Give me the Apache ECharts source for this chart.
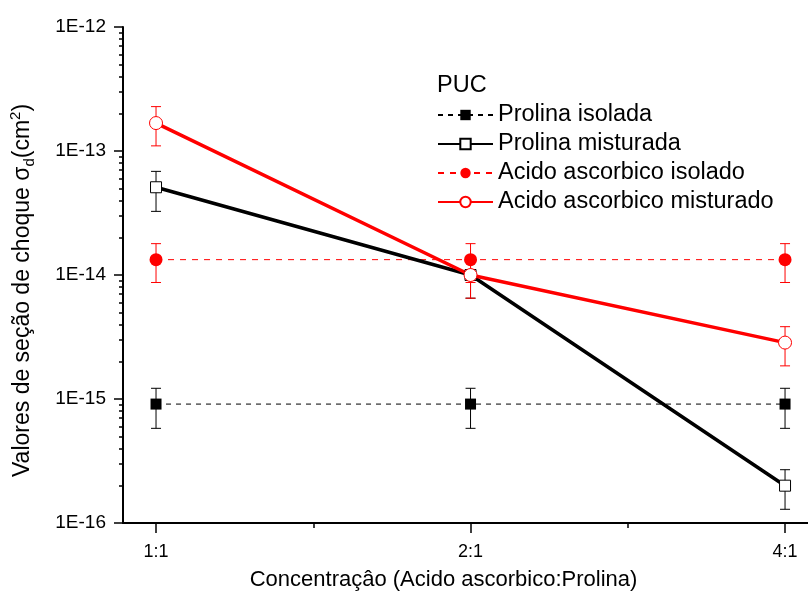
<!DOCTYPE html>
<html>
<head>
<meta charset="utf-8">
<script src="https://cdn.jsdelivr.net/npm/echarts@6/dist/echarts.min.js"></script>
<style>html,body{margin:0;padding:0;background:#fff}#c{width:808px;height:596px}</style>
</head>
<body>
<div id="c"></div>
<script>
// ---- data ----
const categories = ['1:1', '2:1', '4:1'];
const prolinaIsolada = [9.1e-16, 9.1e-16, 9.1e-16];
const prolinaIsoladaLow = [5.8e-16, 5.8e-16, 5.8e-16];
const prolinaIsoladaHigh = [1.22e-15, 1.22e-15, 1.22e-15];
const prolinaMisturada = [5.1e-14, 1.0e-14, 2.0e-16];
const prolinaMisturadaLow = [3.26e-14, 6.5e-15, 1.29e-16];
const prolinaMisturadaHigh = [6.85e-14, 1.36e-14, 2.69e-16];
const acidoIsolado = [1.33e-14, 1.33e-14, 1.33e-14];
const acidoIsoladoLow = [8.7e-15, 8.7e-15, 8.7e-15];
const acidoIsoladoHigh = [1.79e-14, 1.79e-14, 1.79e-14];
const acidoMisturado = [1.68e-13, 1.0e-14, 2.85e-15];
const acidoMisturadoLow = [1.10e-13, 6.5e-15, 1.85e-15];
const acidoMisturadoHigh = [2.28e-13, 1.36e-14, 3.83e-15];
const yTickValues = [1e-16, 1e-15, 1e-14, 1e-13, 1e-12];
const seriesNames = ['Prolina isolada', 'Prolina misturada', 'Acido ascorbico isolado', 'Acido ascorbico misturado'];

// ---- build ----
const FONT = 'Liberation Sans';
const pts = arr => arr.map((v, i) => [i, v]);
const errs = (lo, hi) => lo.map((v, i) => [i, v, hi[i]]);
const minorY = [];
for (let e = -16; e < -12; e++) for (let k = 2; k <= 9; k++) minorY.push(k * Math.pow(10, e));

function errSeries(name, lo, hi, color) {
  return {
    type: 'custom', name: name + '_err', xAxisIndex: 0, yAxisIndex: 0, z: 1,
    silent: true, legendHoverLink: false,
    data: errs(lo, hi),
    encode: { x: 0, y: [1, 2] },
    renderItem: function (params, api) {
      const a = api.coord([api.value(0), api.value(1)]);
      const b = api.coord([api.value(0), api.value(2)]);
      const w = 5;
      const st = { stroke: color, lineWidth: 1, fill: null };
      return {
        type: 'group', children: [
          { type: 'line', shape: { x1: a[0], y1: a[1], x2: b[0], y2: b[1] }, style: st },
          { type: 'line', shape: { x1: a[0] - w, y1: a[1], x2: a[0] + w, y2: a[1] }, style: st },
          { type: 'line', shape: { x1: b[0] - w, y1: b[1], x2: b[0] + w, y2: b[1] }, style: st }
        ]
      };
    }
  };
}

const chart = echarts.init(document.getElementById('c'), null, { renderer: 'canvas' });
chart.setOption({
  animation: false,
  backgroundColor: '#fff',
  textStyle: { fontFamily: FONT },
  grid: { left: 123, top: 27, bottom: 72, right: 0, containLabel: false },
  title: {
    text: 'PUC', left: 437, top: 74, padding: 0,
    textStyle: { fontFamily: FONT, fontSize: 23.5, fontWeight: 'normal', color: '#000' }
  },
  legend: {
    data: seriesNames,
    orient: 'vertical', left: 437, top: 103, padding: 0,
    itemWidth: 55, itemHeight: 13, itemGap: 5, textGap: 7,
    textStyle: { fontFamily: FONT, fontSize: 23.5, color: '#000', lineHeight: 24 },
    selectedMode: false
  },
  xAxis: [{
    type: 'value', min: -0.105, max: 2.073,
    axisLine: { show: true, onZero: false, lineStyle: { color: '#000', width: 2 } },
    axisTick: { show: true, customValues: [0, 1, 2], length: 10, lineStyle: { color: '#000', width: 1.5 } },
    axisLabel: {
      customValues: [0, 1, 2], margin: 20, color: '#000', fontSize: 18, fontFamily: FONT,
      formatter: v => categories[Math.round(v)]
    },
    splitLine: { show: false },
    name: 'Concentraçâo (Acido ascorbico:Prolina)', nameLocation: 'middle', nameGap: 46,
    nameTextStyle: { fontFamily: FONT, fontSize: 22, color: '#000', padding: [0, 44, 0, 0] }
  }, {
    type: 'value', min: -0.105, max: 2.073, position: 'bottom',
    axisLine: { show: false, onZero: false },
    axisTick: { show: true, customValues: [0.5, 1.5], length: 5, lineStyle: { color: '#000', width: 1.5 } },
    axisLabel: { show: false }, splitLine: { show: false }
  }],
  yAxis: [{
    type: 'log', logBase: 10, min: 1e-16, max: 1e-12,
    axisLine: { show: true, onZero: false, lineStyle: { color: '#000', width: 2 } },
    axisTick: { show: true, customValues: yTickValues, length: 9, lineStyle: { color: '#000', width: 1.5 } },
    axisLabel: {
      customValues: yTickValues, margin: 17, color: '#000', fontSize: 19, fontFamily: FONT,
      formatter: v => '1E' + Math.round(Math.log10(v))
    },
    splitLine: { show: false },
    name: '{t|Valores de seção de choque σ}{s|d}{t|(cm}{p|2}{t|)}',
    nameLocation: 'middle', nameGap: 86,
    nameTextStyle: {
      padding: [0, 31, 0, 0],
      rich: {
        t: { fontFamily: FONT, fontSize: 23, color: '#000', verticalAlign: 'middle' },
        s: { fontFamily: FONT, fontSize: 15, color: '#000', padding: [14, 0, 0, 0] },
        p: { fontFamily: FONT, fontSize: 15, color: '#000', padding: [0, 0, 14, 0] }
      }
    }
  }, {
    type: 'log', logBase: 10, min: 1e-16, max: 1e-12, position: 'left', offset: 0,
    axisLine: { show: false, onZero: false },
    axisTick: { show: true, customValues: minorY, length: 4, lineStyle: { color: '#000', width: 1.5 } },
    axisLabel: { show: false }, splitLine: { show: false }
  }],
  series: [
    errSeries(seriesNames[0], prolinaIsoladaLow, prolinaIsoladaHigh, '#000'),
    errSeries(seriesNames[1], prolinaMisturadaLow, prolinaMisturadaHigh, '#000'),
    errSeries(seriesNames[2], acidoIsoladoLow, acidoIsoladoHigh, '#ff0000'),
    errSeries(seriesNames[3], acidoMisturadoLow, acidoMisturadoHigh, '#ff0000'),
    {
      type: 'line', name: seriesNames[0], data: pts(prolinaIsolada), z: 3,
      lineStyle: { color: '#000', width: 1, type: [5, 5] },
      symbol: 'rect', symbolSize: 11,
      itemStyle: { color: '#000', borderColor: '#000', borderWidth: 0 }
    },
    {
      type: 'line', name: seriesNames[1], data: pts(prolinaMisturada), z: 4,
      lineStyle: { color: '#000', width: 3.5, type: 'solid' },
      symbol: 'rect', symbolSize: 11, showSymbol: true,
      itemStyle: { color: '#fff', borderColor: '#000', borderWidth: 1 }
    },
    {
      type: 'line', name: seriesNames[2], data: pts(acidoIsolado), z: 3,
      lineStyle: { color: '#ff0000', width: 1, type: [6, 6] },
      symbol: 'circle', symbolSize: 13,
      itemStyle: { color: '#ff0000', borderColor: '#ff0000', borderWidth: 0 }
    },
    {
      type: 'line', name: seriesNames[3], data: pts(acidoMisturado), z: 4,
      lineStyle: { color: '#ff0000', width: 3.5, type: 'solid' },
      symbol: 'circle', symbolSize: 13,
      itemStyle: { color: '#fff', borderColor: '#ff0000', borderWidth: 1 }
    }
  ]
});
</script>
</body>
</html>
